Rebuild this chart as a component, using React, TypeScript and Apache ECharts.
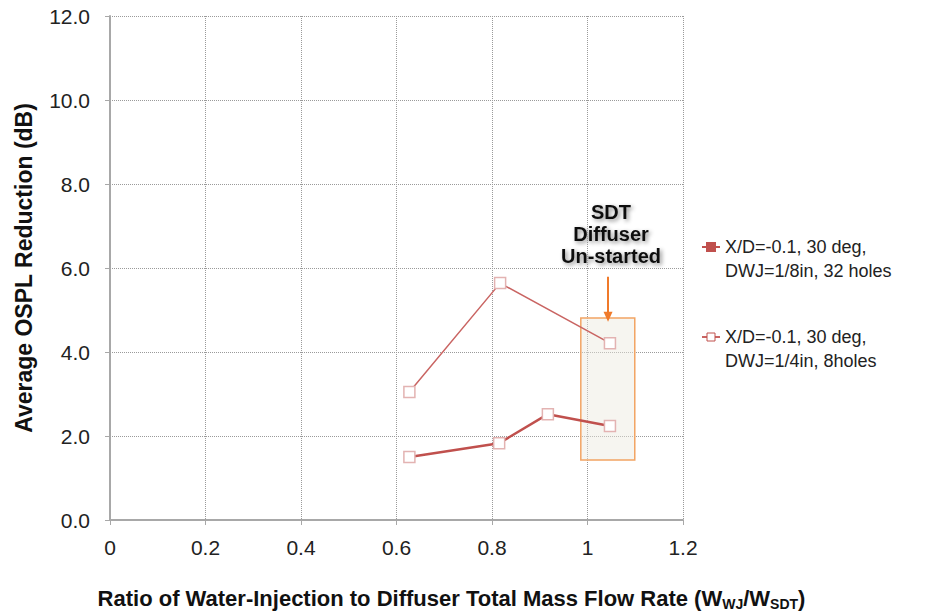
import React, { useEffect, useRef } from "react";
import * as echarts from "echarts";

const seriesNames = [
  "X/D=-0.1, 30 deg,\nDWJ=1/8in, 32 holes",
  "X/D=-0.1, 30 deg,\nDWJ=1/4in, 8holes",
];
const xA = [0.627, 0.815, 0.917, 1.047];
const yA = [1.5, 1.83, 2.52, 2.24];
const xB = [0.627, 0.817, 1.047];
const yB = [3.05, 5.64, 4.21];
const boxX = [0.986, 1.099];
const boxY = [1.43, 4.81];
const arrowX = 1.043;
const arrowY = [5.79, 4.84];
const yTicks = { min: 0, max: 12, interval: 2 };
const xTicks = { min: 0, max: 1.2, interval: 0.2 };
const noteLines = ["SDT", "Diffuser", "Un-started"];

const FONT = "'Liberation Sans', Arial, sans-serif";

export default function App() {
  const ref = useRef<HTMLDivElement>(null);
  useEffect(() => {
    if (!ref.current) return;
    const chart = echarts.init(ref.current, null, { renderer: "svg" });
    const markerStyle = { color: "#ffffff", borderColor: "#e3b3b2", borderWidth: 1.5 };
    chart.setOption({
      animation: false,
      backgroundColor: "#ffffff",
      textStyle: { fontFamily: FONT },
      grid: { left: 110, right: 250, top: 16, bottom: 94, outerBoundsMode: "none", containLabel: false },
      xAxis: {
        type: "value",
        min: xTicks.min,
        max: xTicks.max,
        interval: xTicks.interval,
        axisLine: { onZero: false, lineStyle: { color: "#a8a8a8", width: 2 } },
        axisTick: { show: true, length: 5, lineStyle: { color: "#a8a8a8" } },
        axisLabel: {
          fontSize: 21,
          color: "#222",
          margin: 17,
          fontFamily: FONT,
          formatter: (v: number) => String(Math.round(v * 10) / 10),
        },
        splitLine: { show: true, lineStyle: { type: "dotted", color: "#9a9a9a", width: 1 } },
        name: "Ratio of Water-Injection to Diffuser Total Mass Flow Rate (W{s|WJ}/W{s|SDT})",
        nameLocation: "middle",
        nameGap: 65,
        nameTextStyle: {
          fontSize: 22,
          fontWeight: "bold",
          color: "#111",
          fontFamily: FONT,
          padding: [0, 0, 0, 110],
          rich: {
            s: { fontSize: 14, fontWeight: "bold", color: "#111", fontFamily: FONT, padding: [12, 0, 0, 0] },
          },
        },
      },
      yAxis: {
        type: "value",
        min: yTicks.min,
        max: yTicks.max,
        interval: yTicks.interval,
        axisLine: { show: true, lineStyle: { color: "#a8a8a8", width: 2 } },
        axisTick: { show: true, length: 5, lineStyle: { color: "#a8a8a8" } },
        axisLabel: {
          fontSize: 21,
          color: "#222",
          margin: 20,
          fontFamily: FONT,
          formatter: (v: number) => v.toFixed(1),
        },
        splitLine: { show: true, lineStyle: { type: "dotted", color: "#9a9a9a", width: 1 } },
        name: "Average OSPL Reduction (dB)",
        nameLocation: "middle",
        nameGap: 75,
        nameTextStyle: { fontSize: 23, fontWeight: "bold", color: "#111", fontFamily: FONT },
      },
      legend: {
        orient: "vertical",
        left: 696,
        top: 206,
        itemGap: 18,
        itemWidth: 18,
        itemHeight: 10,
        formatter: (name: string) => "\n" + name,
        textStyle: {
          fontSize: 18,
          color: "#222",
          lineHeight: 24,
          fontFamily: FONT,
        },
        data: [
          { name: seriesNames[0], itemStyle: { color: "#c0504d", borderColor: "#c0504d" } },
          { name: seriesNames[1], itemStyle: { color: "#ffffff", borderColor: "#c0504d", borderWidth: 1 } },
        ],
      },
      series: [
        {
          name: seriesNames[0],
          type: "line",
          data: xA.map((x, i) => [x, yA[i]]),
          symbol: "rect",
          symbolSize: 11,
          lineStyle: { color: "#c0504d", width: 2.5 },
          itemStyle: markerStyle,
          z: 3,
        },
        {
          name: seriesNames[1],
          type: "line",
          data: xB.map((x, i) => [x, yB[i]]),
          symbol: "rect",
          symbolSize: 11,
          lineStyle: { color: "#c96462", width: 1.5 },
          itemStyle: markerStyle,
          z: 3,
          markArea: {
            silent: true,
            itemStyle: {
              color: "rgba(236,232,222,0.45)",
              borderColor: "#f2a463",
              borderWidth: 1.5,
            },
            data: [[{ coord: [boxX[0], boxY[0]] }, { coord: [boxX[1], boxY[1]] }]],
          },
          markLine: {
            silent: true,
            symbol: ["none", "triangle"],
            symbolSize: [9, 10],
            symbolRotate: 180,
            label: { show: false },
            lineStyle: { color: "#f07a2a", width: 2, type: "solid" },
            data: [[{ coord: [arrowX, arrowY[0]] }, { coord: [arrowX, arrowY[1]] }]],
          },
        },
      ],
      graphic: [
        {
          type: "text",
          x: 611,
          y: 200,
          style: {
            text: noteLines.join("\n"),
            fontSize: 20,
            fontWeight: "bold",
            fontFamily: FONT,
            fill: "#111",
            align: "center",
            verticalAlign: "top",
            lineHeight: 22,
            backgroundColor: "#ffffff",
            padding: [1, 2, 0, 2],
            textShadowColor: "rgba(0,0,0,0.45)",
            textShadowBlur: 4,
            textShadowOffsetX: 2,
            textShadowOffsetY: 2,
          },
        },
      ],
    });
    return () => chart.dispose();
  }, []);
  return (
    <div
      ref={ref}
      style={{ position: "absolute", left: 0, top: 0, width: 933, height: 614 }}
    />
  );
}
